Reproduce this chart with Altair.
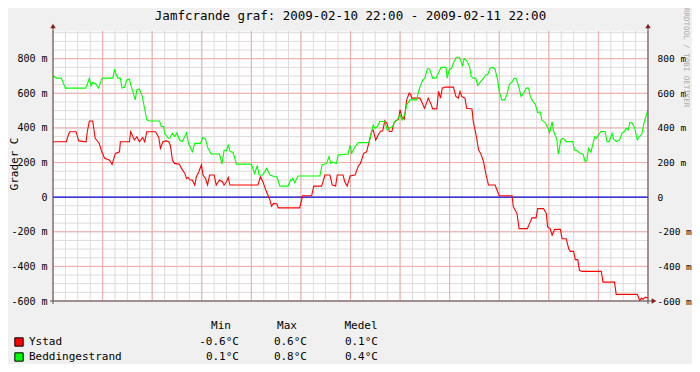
import altair as alt
import pandas as pd

TITLE = "Jamfcrande graf: 2009-02-10 22:00 - 2009-02-11 22:00"
Y_TITLE = "Grader C"
WATERMARK = "RRDTOOL / TOBI OETIKER"
SERIES = ["Ystad", "Beddingestrand"]
COLORS = ["#FF0000", "#00FF00"]
STAT_HEADERS = ["Min", "Max", "Medel"]
STAT_MIN = [-0.6, 0.1]
STAT_MAX = [0.6, 0.8]
STAT_MEAN = [0.1, 0.4]

# x = minutes after 2009-02-10 22:00
X_LABEL_POS = [120, 360, 600, 840, 1080, 1320]
X_LABELS = ["ons 00:00", "ons 04:00", "ons 08:00", "ons 12:00", "ons 16:00", "ons 20:00"]
Y_LABEL_VALUES = [-600, -400, -200, 0, 200, 400, 600, 800]
ZERO = [0]

# values in milli-degrees C
RED_T = [0, 32, 38, 41, 56, 62, 80, 83, 88, 96, 102, 112, 118, 125, 137, 143, 151, 161, 163, 185,
         188, 197, 203, 209, 217, 222, 227, 248, 256, 260, 266, 274, 280, 284, 289, 294, 306, 311,
         319, 323, 327, 332, 337, 343, 347, 353, 359, 363, 369, 374, 379, 390, 395, 403, 410, 414,
         420, 424, 428, 496, 502, 508, 515, 520, 525, 529, 534, 542, 545, 597, 604, 626, 631, 650,
         654, 658, 670, 676, 684, 688, 702, 706, 712, 719, 731, 739, 744, 752, 759, 765, 771, 775,
         781, 787, 793, 798, 803, 808, 814, 820, 825, 830, 836, 840, 844, 850, 856, 862, 866, 868,
         888, 894, 899, 904, 908, 914, 919, 929, 933, 938, 942, 949, 969, 975, 981, 985, 989, 997,
         1001, 1014, 1017, 1024, 1030, 1035, 1042, 1048, 1054, 1070, 1076, 1080, 1111, 1114, 1123,
         1128, 1148, 1155, 1159, 1169, 1173, 1187, 1194, 1197, 1203, 1208, 1214, 1228, 1232, 1242,
         1248, 1252, 1260, 1264, 1270, 1274, 1280, 1327, 1331, 1359, 1363, 1414, 1420, 1424, 1428,
         1434, 1440]
RED_V = [320, 320, 365, 378, 378, 325, 320, 378, 440, 440, 340, 310, 262, 224, 214, 189, 253, 262, 320, 320,
         378, 330, 349, 320, 345, 320, 378, 378, 345, 282, 320, 325, 320, 300, 214, 195, 190, 166,
         137, 108, 114, 99, 99, 70, 118, 147, 186, 128, 108, 70, 128, 128, 70, 99, 89, 70,
         89, 114, 70, 70, 118, 89, 41, 12, -17, -52, -36, -40, -62, -62, 8, 8, 64, 64,
         93, 128, 128, 70, 64, 128, 128, 89, 64, 122, 128, 180, 195, 253, 262, 321, 379, 388,
         330, 359, 382, 382, 441, 427, 379, 379, 427, 441, 450, 504, 466, 450, 562, 601, 591, 572,
         572, 543, 514, 543, 572, 543, 510, 510, 611, 572, 630, 636, 636, 582, 572, 611, 582, 572,
         514, 510, 437, 359, 272, 253, 205, 128, 70, 70, 31, 8, 8, -56, -95,
         -182, -182, -143, -120, -120, -66, -66, -95, -172, -182, -220, -186, -186, -240, -240,
         -298, -313, -313, -361, -361, -423, -429, -429, -491, -491, -562, -562, -597, -583, -590,
         -578, -583]

GREEN_T = [0, 8, 20, 30, 79, 84, 88, 92, 96, 103, 110, 117, 120, 145, 149, 153, 157, 163, 167, 173,
           179, 185, 189, 193, 199, 203, 209, 216, 222, 227, 234, 258, 262, 268, 270, 274, 279, 282,
           289, 294, 300, 306, 313, 319, 323, 328, 337, 343, 357, 363, 369, 375, 383, 403, 409, 414,
           420, 424, 429, 436, 444, 480, 488, 494, 499, 507, 517, 525, 537, 542, 549, 569, 575, 577,
           580, 585, 593, 646, 651, 662, 668, 672, 677, 686, 690, 714, 719, 723, 731, 739, 765, 771,
           775, 779, 785, 791, 803, 809, 816, 822, 828, 833, 840, 845, 852, 856, 864, 880, 887, 895,
           900, 906, 911, 919, 927, 933, 939, 951, 954, 959, 965, 969, 976, 983, 987, 991, 995, 1001,
           1008, 1012, 1017, 1023, 1028, 1034, 1042, 1048, 1052, 1058, 1066, 1070, 1076, 1080, 1086,
           1093, 1098, 1105, 1111, 1116, 1121, 1127, 1133, 1139, 1145, 1151, 1155, 1159, 1167, 1173,
           1179, 1183, 1191, 1197, 1202, 1208, 1211, 1215, 1219, 1223, 1229, 1234, 1242, 1258, 1262,
           1268, 1276, 1283, 1288, 1292, 1296, 1302, 1307, 1311, 1315, 1320, 1326, 1336, 1341, 1346,
           1353, 1357, 1363, 1371, 1377, 1383, 1387, 1392, 1396, 1402, 1408, 1414, 1419, 1425, 1429,
           1435, 1440]
GREEN_V = [701, 688, 688, 630, 630, 659, 688, 643, 662, 655, 630, 678, 688, 688, 740, 707, 688, 688, 630, 635,
           678, 682, 643, 611, 562, 621, 625, 582, 508, 446, 440, 440, 408, 408, 369, 356, 340, 340,
           369, 350, 372, 330, 321, 350, 372, 311, 263, 311, 311, 346, 335, 282, 249, 249, 191, 272,
           268, 301, 263, 258, 191, 191, 137, 180, 128, 128, 166, 128, 118, 118, 64, 64, 99, 95,
           108, 83, 122, 122, 186, 195, 234, 195, 203, 195, 243, 249, 301, 253, 292, 315, 315, 379,
           417, 398, 408, 437, 437, 388, 402, 408, 441, 446, 475, 446, 485, 533, 562, 562, 630, 678,
           688, 742, 742, 688, 688, 717, 750, 750, 688, 737, 746, 775, 808, 808, 789, 756, 800, 789,
           756, 698, 688, 688, 645, 665, 688, 707, 707, 746, 750, 737, 678, 611, 562,
           562, 591, 653, 665, 688, 685, 640, 582, 600, 630, 630, 582, 562, 537, 489,
           492, 446, 431, 404, 373, 437, 385, 359, 340, 249, 330, 340, 321, 321, 272,
           268, 253, 248, 205, 212, 282, 260, 311, 350, 340, 359, 379, 379, 321, 321,
           369, 335, 321, 330, 369, 379, 398, 388, 431, 427, 398, 331, 350, 363, 417,
           466, 504]

FONT = "DejaVu Sans Mono"
W, H = 595, 270
Y_DOMAIN = [-600, 960]

df = pd.concat([
    pd.DataFrame({"t": RED_T, "v": RED_V, "series": SERIES[0]}),
    pd.DataFrame({"t": GREEN_T, "v": GREEN_V, "series": SERIES[1]}),
])

xscale = alt.Scale(domain=[0, 1440], nice=False, zero=False)
yscale = alt.Scale(domain=Y_DOMAIN, nice=False, zero=False)

pos_arr = "[" + ",".join(str(p) for p in X_LABEL_POS) + "]"
lab_arr = "[" + ",".join("'" + s + "'" for s in X_LABELS) + "]"
x_label_expr = f"indexof({pos_arr}, datum.value) >= 0 ? {lab_arr}[indexof({pos_arr}, datum.value)] : ''"
y_label_expr = "datum.value == 0 ? '0' : datum.value + ' m'"

one = alt.Data(values=[{}])
MINOR = "#DCDCDC"
MAJOR = "#F2AAAA"

# axes (labels only) on an invisible layer
base = alt.Chart(df).mark_point(opacity=0).encode(
    x=alt.X("t:Q", scale=xscale, title=None,
            axis=alt.Axis(values=X_LABEL_POS, grid=False, ticks=False, domain=False,
                          labelExpr=x_label_expr, labelFont=FONT, labelFontSize=10,
                          labelColor="#000000", labelPadding=6, labelOverlap=False,
                          labelFlush=False)),
    y=alt.Y("v:Q", scale=yscale, title=None,
            axis=alt.Axis(values=Y_LABEL_VALUES, grid=False, ticks=False, domain=False,
                          labelExpr=y_label_expr, labelFont=FONT, labelFontSize=10,
                          labelColor="#000000", labelPadding=6, labelOverlap=False,
                          labelFlush=False)),
)

vminor = alt.Chart(alt.sequence(0, 1441, 30, as_="t")).mark_rule(color=MINOR, strokeWidth=1).encode(
    x=alt.X("t:Q", scale=xscale, axis=None))
hminor = alt.Chart(alt.sequence(-600, 951, 50, as_="v")).mark_rule(color=MINOR, strokeWidth=1).encode(
    y=alt.Y("v:Q", scale=yscale, axis=None))
vmajor = alt.Chart(alt.sequence(0, 1441, 120, as_="t")).mark_rule(color=MAJOR, strokeWidth=1).encode(
    x=alt.X("t:Q", scale=xscale, axis=None))
hmajor = alt.Chart(alt.sequence(-600, 801, 200, as_="v")).transform_filter(
    "datum.v != 0").mark_rule(color=MAJOR, strokeWidth=1).encode(
    y=alt.Y("v:Q", scale=yscale, axis=None))
zero_line = alt.Chart(pd.DataFrame({"v": ZERO})).mark_rule(color="#0000D0", strokeWidth=1.2).encode(
    y=alt.Y("v:Q", scale=yscale, axis=None))

lines = alt.Chart(df).mark_line(strokeWidth=1.1, clip=True).encode(
    x=alt.X("t:Q", scale=xscale, axis=None),
    y=alt.Y("v:Q", scale=yscale, title=None,
            axis=alt.Axis(orient="right", values=Y_LABEL_VALUES, grid=False, ticks=False,
                          domain=False, labelExpr=y_label_expr, labelFont=FONT,
                          labelFontSize=9.5, labelColor="#000000", labelPadding=9,
                          labelOverlap=False, labelFlush=False)),
    color=alt.Color("series:N", scale=alt.Scale(domain=SERIES, range=COLORS), legend=None),
    order="t:Q",
)

axis_col = "#555555"
arrow_col = "#8B1A1A"
left_axis = alt.Chart(one).mark_rule(color=axis_col).encode(
    x=alt.value(0), y=alt.value(-4), y2=alt.value(H + 3))
right_axis = alt.Chart(one).mark_rule(color=axis_col).encode(
    x=alt.value(W), y=alt.value(-4), y2=alt.value(H + 3))
bottom_axis = alt.Chart(one).mark_rule(color=axis_col).encode(
    y=alt.value(H), x=alt.value(-3), x2=alt.value(W + 5))
arrow_l = alt.Chart(one).mark_point(shape="triangle-up", filled=True, size=30, color=arrow_col, opacity=1).encode(
    x=alt.value(0), y=alt.value(-5))
arrow_r = alt.Chart(one).mark_point(shape="triangle-up", filled=True, size=30, color=arrow_col, opacity=1).encode(
    x=alt.value(W), y=alt.value(-5))
arrow_b = alt.Chart(one).mark_point(shape="triangle-right", filled=True, size=30, color=arrow_col, opacity=1).encode(
    x=alt.value(W + 6), y=alt.value(H))


def text(s, x, y, size=10, align="left", angle=0, color="#000000"):
    return alt.Chart(one).mark_text(text=s, font=FONT, fontSize=size, align=align, baseline="middle",
                                    angle=angle, color=color).encode(x=alt.value(x), y=alt.value(y))


texts = [
    text(TITLE, W / 2, -15, size=12.5, align="center"),
    text(Y_TITLE, -38, H / 2 - 2, size=11, align="center", angle=270),
    text(WATERMARK, 633, -23, size=7.5, align="left", angle=90, color="#ABABAB"),
]
header_x = [168, 234, 308]
for hx, h in zip(header_x, STAT_HEADERS):
    texts.append(text(h, hx, 295, size=11, align="center"))
row_y = [311, 326]
val_x = [186, 254, 325]
for i, name in enumerate(SERIES):
    texts.append(alt.Chart(one).mark_square(size=70, color=COLORS[i], stroke="#000000", strokeWidth=1,
                                            opacity=1).encode(x=alt.value(-34), y=alt.value(row_y[i])))
    texts.append(text(name, -24, row_y[i], size=11))
    for vx, vals in zip(val_x, [STAT_MIN, STAT_MAX, STAT_MEAN]):
        texts.append(text(f"{vals[i]:.1f}°C", vx, row_y[i], size=11, align="right"))

chart = alt.layer(
    base, vminor, hminor, vmajor, hmajor, zero_line, lines,
    left_axis, right_axis, bottom_axis, arrow_l, arrow_r, arrow_b, *texts
).resolve_axis(y="independent").properties(
    width=W, height=H,
    padding={"left": 45, "top": 23, "right": 44, "bottom": 63},
    autosize=alt.AutoSizeParams(type="none"),
    background="#F0F0F0",
).configure_view(fill="#FFFFFF", stroke="transparent")

chart.save("out.html", embed_options={"renderer": "svg", "actions": False})
